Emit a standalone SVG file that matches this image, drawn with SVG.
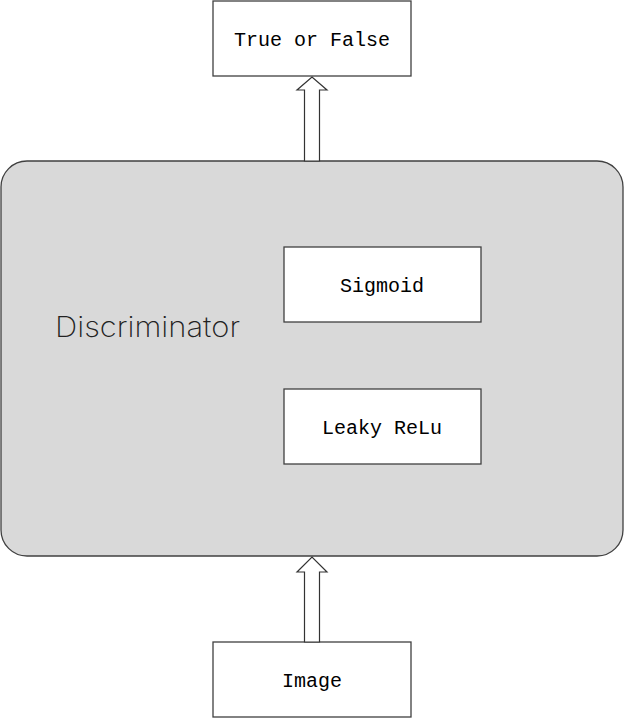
<svg xmlns="http://www.w3.org/2000/svg" width="624" height="719" viewBox="0 0 624 719">
<style>
.box{fill:#ffffff;stroke:#404040;stroke-width:1.3}
.lbl{font-family:"Liberation Mono",monospace;font-size:20px;fill:#000;text-anchor:middle}
.arrow{fill:#ffffff;stroke:#333;stroke-width:1.2;stroke-linejoin:miter}
</style>
<rect width="624" height="719" fill="#ffffff"/>
<g id="discriminator">
<rect x="1" y="161" width="622" height="395" rx="26" ry="26" fill="#d9d9d9" stroke="#404040" stroke-width="1.3"/>
<text x="55" y="337" font-family="Inter,'Liberation Sans',sans-serif" font-weight="200" font-size="28" fill="#222" textLength="185" lengthAdjust="spacingAndGlyphs">Discriminator</text>
</g>
<g id="true-or-false">
<rect class="box" x="213" y="1" width="198" height="75"/>
<text class="lbl" x="312" y="46">True or False</text>
</g>
<g id="sigmoid">
<rect class="box" x="284" y="247" width="197" height="75"/>
<text class="lbl" x="382" y="292">Sigmoid</text>
</g>
<g id="leaky-relu">
<rect class="box" x="284" y="389" width="197" height="75"/>
<text class="lbl" x="382" y="434">Leaky ReLu</text>
</g>
<g id="image">
<rect class="box" x="213" y="642" width="198" height="75"/>
<text class="lbl" x="312" y="687">Image</text>
</g>
<g id="connectors">
<polygon class="arrow" points="304.5,161 304.5,90 297,90 312,77 327,90 319.5,90 319.5,161"/>
<polygon class="arrow" points="304.5,642 304.5,572 297,572 312,557 327,572 319.5,572 319.5,642"/>
</g>
</svg>
